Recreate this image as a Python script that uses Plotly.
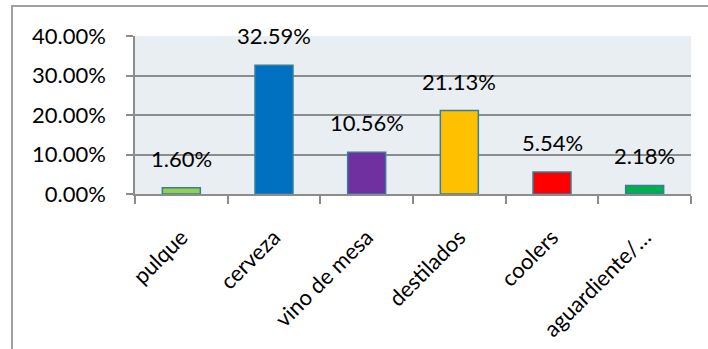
import plotly.graph_objects as go

categories = ["pulque", "cerveza", "vino de mesa", "destilados", "coolers", "aguardiente/…"]
values = [0.0160, 0.3259, 0.1056, 0.2113, 0.0554, 0.0218]
labels = ["1.60%", "32.59%", "10.56%", "21.13%", "5.54%", "2.18%"]
colors = ["#92d050", "#0070c0", "#7030a0", "#ffc000", "#ff0000", "#00b050"]
y_ticks = [0, 0.1, 0.2, 0.3, 0.4]
y_ticktext = ["0.00%", "10.00%", "20.00%", "30.00%", "40.00%"]

FONT = "Lato"
FS = 22

fig = go.Figure(go.Bar(
    x=categories, y=values,
    marker=dict(color=colors, line=dict(color="#3a7d9a", width=1.5)),
    width=0.41,
))

for c, v, t in zip(categories, values, labels):
    fig.add_annotation(x=c, y=v, text=t, showarrow=False, yanchor="bottom",
                       yshift=14, font=dict(family=FONT, size=FS, color="#000000"))

W, H = 708, 349
L, R, T, B = 135, 17, 36, 155
pw, ph = W - L - R, H - T - B

def px(x):
    return (x - L) / pw

def py(y):
    return (H - B - y) / ph

fig.add_shape(type="path", xref="paper", yref="paper",
              path=f"M {px(12)} {py(349)} L {px(12)} {py(6)} L {px(708)} {py(6)}",
              line=dict(color="#a0a0a0", width=2))

fig.update_layout(
    width=W, height=H,
    margin=dict(l=L, r=R, t=T, b=B),
    paper_bgcolor="white",
    plot_bgcolor="#e8eef2",
    showlegend=False,
    font=dict(family=FONT, size=FS, color="#000000"),
    xaxis=dict(
        type="category", tickangle=-45, showline=True, linecolor="#8c8c8c", linewidth=1.5,
        ticks="outside", tickson="boundaries", ticklen=8, tickcolor="#8c8c8c", tickwidth=1.5,
        tickfont=dict(family=FONT, size=FS), showgrid=False, automargin=False,
        ticklabelstandoff=20,
    ),
    yaxis=dict(
        range=[0, 0.4], tickvals=y_ticks, ticktext=y_ticktext,
        showline=True, linecolor="#8c8c8c", linewidth=1.5,
        ticks="outside", ticklen=7, tickcolor="#8c8c8c", tickwidth=1.5,
        gridcolor="#8c8c8c", gridwidth=1.5, zeroline=False,
        tickfont=dict(family=FONT, size=FS), automargin=False,
        ticklabelstandoff=16,
    ),
)

fig.write_html("out.html")
